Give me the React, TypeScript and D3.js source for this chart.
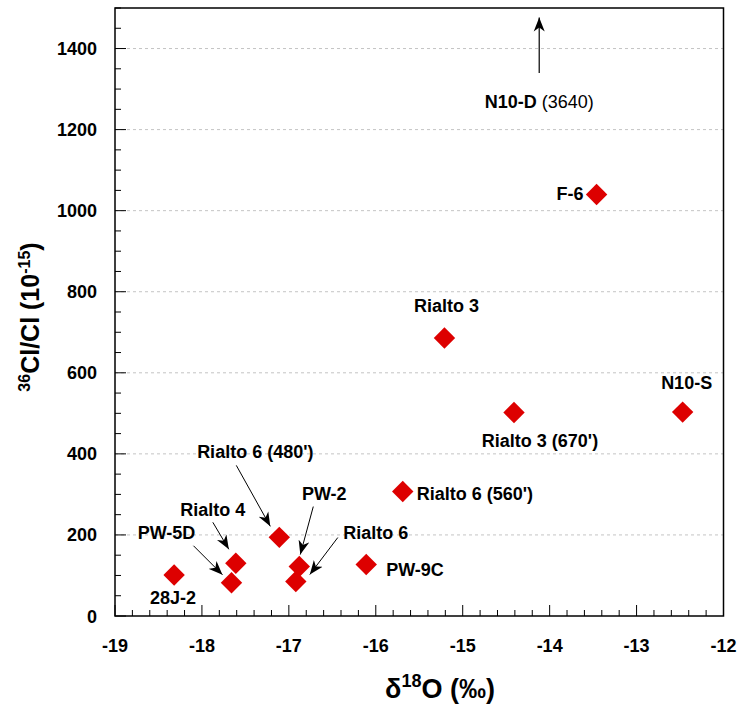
import React from "react";
import * as d3 from "d3";

// ---- data ----
const sampleNames = ["F-6", "Rialto 3", "Rialto 3 (670')", "N10-S", "Rialto 6 (560')", "28J-2", "PW-5D", "Rialto 4", "Rialto 6 (480')", "PW-2", "Rialto 6", "PW-9C"];
const delta18O = [-13.46, -15.21, -14.41, -12.47, -15.69, -18.32, -17.66, -17.61, -17.11, -16.88, -16.92, -16.11];
const cl36Ratio = [1040, 686, 502, 503, 307, 101, 82, 130, 194, 122, 85, 127];

const xTicks = [-19, -18, -17, -16, -15, -14, -13, -12];
const yTicks = [0, 200, 400, 600, 800, 1000, 1200, 1400];

// off-scale sample shown with an upward arrow
const offScaleName = "N10-D";
const offScaleValue = "(3640)";
const offScaleX = -14.12;

// label placement (pixel offsets from point), and arrow callouts
type Lab = { dx: number; dy: number; anchor: string; arrow?: [number, number, number, number] };
const labelLayout: Lab[] = [
  { dx: -13, dy: 6, anchor: "end" },
  { dx: 2, dy: -26, anchor: "middle" },
  { dx: 26, dy: 34, anchor: "middle" },
  { dx: 4, dy: -23, anchor: "middle" },
  { dx: 14, dy: 8, anchor: "start" },
  { dx: -1, dy: 29, anchor: "middle" },
  { dx: -65, dy: -44, anchor: "middle", arrow: [-38, -37, -9, -8] },
  { dx: -23, dy: -47, anchor: "middle", arrow: [-23, -41, -7, -14] },
  { dx: -24, dy: -79, anchor: "middle", arrow: [-43, -72, -9, -11] },
  { dx: 25, dy: -67, anchor: "middle", arrow: [14, -60, 1, -12] },
  { dx: 80, dy: -43, anchor: "middle", arrow: [42, -44, 14, -7] },
  { dx: 20, dy: 11, anchor: "start" },
];

const W = 742;
const H = 709;
const left = 115;
const right = 723.5;
const top = 8;
const bottom = 616;

export default function App() {
  const x = d3.scaleLinear().domain([-19, -12]).range([left, right]);
  const y = d3.scaleLinear().domain([0, 1500]).range([bottom, top]);

  const xMinor = d3.range(-19, -12.0001, 0.2).map((v) => Math.round(v * 10) / 10);
  const yMinor = d3.range(0, 1501, 50);

  const font = "'Liberation Sans', Arial, Helvetica, sans-serif";
  const red = "#dd0000";
  const diamond = (cx: number, cy: number, r: number) =>
    `M${cx},${cy - r}L${cx + r},${cy}L${cx},${cy + r}L${cx - r},${cy}Z`;

  return (
    <div style={{ position: "absolute", left: 0, top: 0 }}>
      <svg width={W} height={H} style={{ display: "block", fontFamily: font }}>
        <defs>
          <marker id="ah" viewBox="-14 -6 15 12" refX={0} refY={0} markerWidth={15} markerHeight={12} markerUnits="userSpaceOnUse" orient="auto">
            <path d="M0,0L-14,-5.5L-10,0L-14,5.5Z" fill="#000" />
          </marker>
        </defs>
        <rect x={0} y={0} width={W} height={H} fill="#fff" />
        {/* gridlines */}
        {yTicks.filter((t) => t > 0).map((t) => (
          <line key={"g" + t} x1={left} x2={right} y1={y(t)} y2={y(t)} stroke="#c4c4c4" strokeWidth={1} strokeDasharray="3,3" />
        ))}
        {/* minor/major ticks y */}
        {yMinor.map((t) => {
          const major = t % 200 === 0;
          return <line key={"yt" + t} x1={left} x2={left + (major ? 11 : 6)} y1={y(t)} y2={y(t)} stroke="#000" strokeWidth={1} />;
        })}
        {xMinor.map((t, i) => {
          const major = i % 5 === 0;
          return <line key={"xt" + i} x1={x(t)} x2={x(t)} y1={bottom} y2={bottom - (major ? 11 : 6)} stroke="#000" strokeWidth={1} />;
        })}
        {/* frame */}
        <rect x={left} y={top} width={right - left} height={bottom - top} fill="none" stroke="#000" strokeWidth={1.5} />
        {/* tick labels */}
        {yTicks.map((t) => (
          <text key={"yl" + t} x={left - 18} y={y(t) + 6.5} textAnchor="end" fontSize={18} fontWeight="bold">{t}</text>
        ))}
        {xTicks.map((t) => (
          <text key={"xl" + t} x={x(t)} y={652} textAnchor="middle" fontSize={18} fontWeight="bold">{t}</text>
        ))}
        {/* axis titles */}
        <text x={440} y={698} textAnchor="middle" fontSize={27} fontWeight="bold">
          δ<tspan fontSize={18} dy={-11}>18</tspan><tspan dy={11}>O (‰)</tspan>
        </text>
        <text transform={`translate(39,${(top + bottom) / 2 + 5}) rotate(-90)`} textAnchor="middle" fontSize={25} fontWeight="bold">
          <tspan fontSize={16} dy={-9}>36</tspan><tspan dy={9}>Cl/Cl (10</tspan><tspan fontSize={16} dy={-9}>-15</tspan><tspan dy={9}>)</tspan>
        </text>
        {/* off-scale arrow */}
        <line x1={x(offScaleX)} x2={x(offScaleX)} y1={73} y2={17.5} stroke="#000" strokeWidth={1.2} markerEnd="url(#ah)" />
        <text x={x(offScaleX)} y={108} textAnchor="middle" fontSize={18}>
          <tspan fontWeight="bold">{offScaleName}</tspan> <tspan>{offScaleValue}</tspan>
        </text>
        {/* arrows */}
        {sampleNames.map((n, i) => {
          const L = labelLayout[i];
          if (!L.arrow) return null;
          const px = x(delta18O[i]);
          const py = y(cl36Ratio[i]);
          return (
            <line key={"ar" + i} x1={px + L.arrow[0]} y1={py + L.arrow[1]} x2={px + L.arrow[2]} y2={py + L.arrow[3]} stroke="#000" strokeWidth={1} markerEnd="url(#ah)" />
          );
        })}
        {/* points */}
        {sampleNames.map((n, i) => (
          <path key={"p" + i} d={diamond(x(delta18O[i]), y(cl36Ratio[i]), 10.7)} fill={red} />
        ))}
        {/* labels */}
        {sampleNames.map((n, i) => {
          const L = labelLayout[i];
          return (
            <text key={"l" + i} x={x(delta18O[i]) + L.dx} y={y(cl36Ratio[i]) + L.dy} textAnchor={L.anchor} fontSize={18} fontWeight="bold">{n}</text>
          );
        })}
      </svg>
    </div>
  );
}
